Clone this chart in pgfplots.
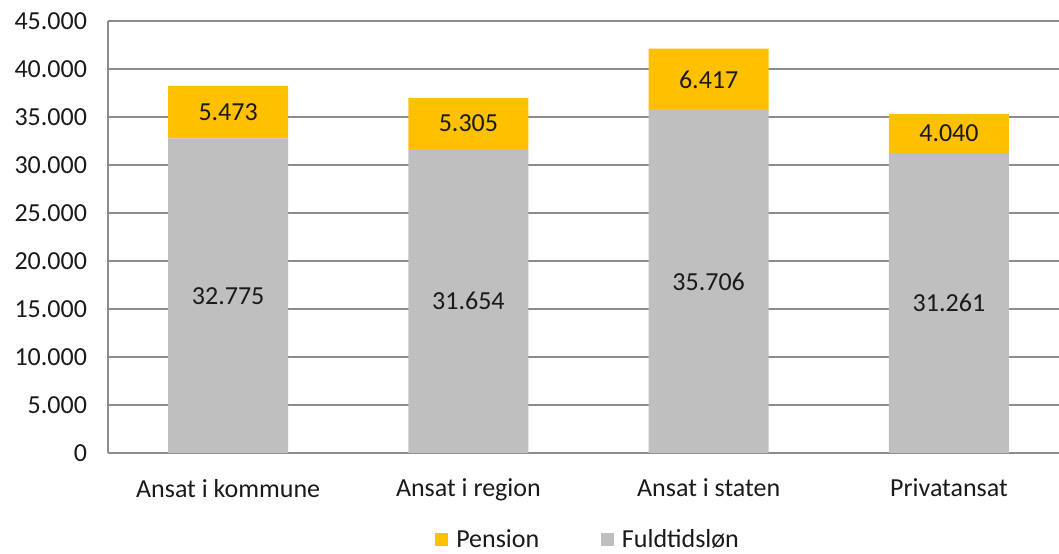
\documentclass[border=0pt]{standalone}
\usepackage{pgfplots}
\pgfplotsset{compat=1.18}
\usepackage{fontspec}
\setmainfont{Carlito}
\definecolor{gold}{HTML}{FFC000}
\definecolor{lgray}{HTML}{BFBFBF}
\definecolor{gridgray}{HTML}{8C8C8C}
\definecolor{txt}{HTML}{1A1A1A}
\newcommand{\fs}{\fontsize{19.5}{23}\selectfont}
\pgfplotsset{
  common/.style={
    scale only axis, width=713.25pt, height=324pt,
    xmin=-0.5, xmax=3.458, ymin=0, ymax=45000,
    /pgf/number format/assume math mode=true,
    /pgf/number format/1000 sep={.},
    /pgf/number format/fixed,
  }
}
\begin{document}
\begin{tikzpicture}
\begin{axis}[
  common,
  ybar stacked, bar width=90pt,
  ytick={0,5000,...,45000},
  xtick={0,1,2,3},
  xticklabels={Ansat i kommune, Ansat i region, Ansat i staten, Privatansat},
  major tick length=0,
  axis lines=left,
  axis line style={-, draw=gridgray, line width=1.2pt},
  ymajorgrids,
  grid style={draw=gridgray, line width=1.2pt},
  scaled y ticks=false,
  tick label style={font=\fs, text=txt},
  yticklabel style={xshift=-12.25pt},
  xticklabel style={yshift=-16pt},
  legend style={at={(0.505,-0.2)}, anchor=center, draw=none, fill=none,
    legend columns=-1, font=\fs, text=txt,
    /tikz/every odd column/.append style={column sep=4pt},
    /tikz/every even column/.append style={column sep=44pt}},
  reverse legend,
]
\addplot+[fill=lgray, draw=none,
  legend image code/.code={\fill[lgray] (0pt,-5pt) rectangle (10pt,5pt);}]
  coordinates {(0,32775) (1,31654) (2,35706) (3,31261)};
\addlegendentry{Fuldtidsløn}
\addplot+[fill=gold, draw=none,
  legend image code/.code={\fill[gold] (0pt,-5pt) rectangle (10pt,5pt);}]
  coordinates {(0,5473) (1,5305) (2,6417) (3,4040)};
\addlegendentry{Pension}
\end{axis}
\begin{axis}[common, hide axis]
\addplot[only marks, mark=none, point meta=explicit,
  nodes near coords, nodes near coords align=center,
  every node near coord/.append style={anchor=center, font=\fs, text=txt}]
  table[meta=v] {
x y v
0 16387.5 32775
1 15827 31654
2 17853 35706
3 15630.5 31261
0 35511.5 5473
1 34306.5 5305
2 38914.5 6417
3 33281 4040
};
\end{axis}
\pgfresetboundingbox
\path[use as bounding box] (-81pt,-75pt) rectangle (713.25pt,339.75pt);
\end{tikzpicture}
\end{document}
